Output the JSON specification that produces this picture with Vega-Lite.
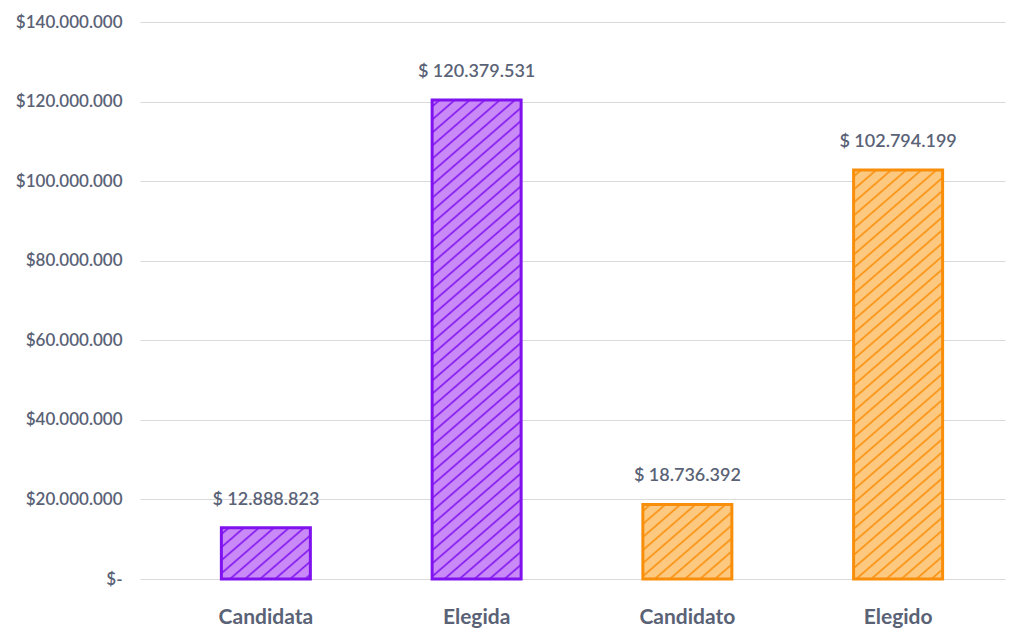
{
"$schema": "https://vega.github.io/schema/vega-lite/v6.json",
"width": 865, "height": 557,
"autosize": {"type": "none"},
"padding": {"left": 140, "top": 22, "right": 13, "bottom": 49},
"config": {"view": {"stroke": null}, "font": "Lato",
  "locale": {"number": {"decimal": ",", "thousands": ".", "grouping": [3], "currency": ["$ ", ""]}}},
"data": {"values": [
  {"cat": "Candidata", "value": 12888823},
  {"cat": "Elegida", "value": 120379531},
  {"cat": "Candidato", "value": 18736392},
  {"cat": "Elegido", "value": 102794199}
]},
"encoding": {
  "x": {"field": "cat", "type": "nominal", "sort": null,
    "scale": {"domain": ["Candidata", "Elegida", "Candidato", "Elegido"], "range": [0, 865], "paddingInner": 0.5777, "paddingOuter": 0.3411, "align": 0.566},
    "axis": {"title": null, "domain": false, "ticks": false, "labelAngle": 0, "labelPadding": 27, "labelFontSize": 21, "labelFontWeight": "bold", "labelColor": "#5a6276", "labelFont": "Lato"}},
  "y": {"field": "value", "type": "quantitative",
    "scale": {"domain": [0, 140000000], "nice": false},
    "axis": {"title": null, "values": [0, 20000000, 40000000, 60000000, 80000000, 100000000, 120000000, 140000000], "format": ",d",
      "labelExpr": "datum.value === 0 ? '$-' : '$' + datum.label",
      "domain": false, "ticks": false, "grid": true, "gridColor": "#d9d9d9", "gridWidth": 1, "labelPadding": 18, "labelFontSize": 17, "labelFontWeight": 600, "labelColor": "#5a6276", "labelFont": "Lato"}}
},
"layer": [
  {"transform": [{"filter": "datum.cat === 'Candidata'"}],
   "mark": {"type": "bar", "stroke": "#7f12ee", "strokeWidth": 3,
     "fill": {"gradient": "linear", "x1": 0, "y1": 0, "x2": 1.1548, "y2": 0.7670, "stops": [
      {"offset":0.0345,"color":"#c98af7"},{"offset":0.0508,"color":"#7f12ee"},{"offset":0.0671,"color":"#c98af7"},
      {"offset":0.1362,"color":"#c98af7"},{"offset":0.1524,"color":"#7f12ee"},{"offset":0.1687,"color":"#c98af7"},
      {"offset":0.2378,"color":"#c98af7"},{"offset":0.2540,"color":"#7f12ee"},{"offset":0.2703,"color":"#c98af7"},
      {"offset":0.3394,"color":"#c98af7"},{"offset":0.3556,"color":"#7f12ee"},{"offset":0.3719,"color":"#c98af7"},
      {"offset":0.4410,"color":"#c98af7"},{"offset":0.4572,"color":"#7f12ee"},{"offset":0.4735,"color":"#c98af7"},
      {"offset":0.5426,"color":"#c98af7"},{"offset":0.5588,"color":"#7f12ee"},{"offset":0.5751,"color":"#c98af7"},
      {"offset":0.6442,"color":"#c98af7"},{"offset":0.6604,"color":"#7f12ee"},{"offset":0.6767,"color":"#c98af7"},
      {"offset":0.7458,"color":"#c98af7"},{"offset":0.7620,"color":"#7f12ee"},{"offset":0.7783,"color":"#c98af7"},
      {"offset":0.8474,"color":"#c98af7"},{"offset":0.8637,"color":"#7f12ee"},{"offset":0.8799,"color":"#c98af7"},
      {"offset":0.9490,"color":"#c98af7"},{"offset":0.9653,"color":"#7f12ee"},{"offset":0.9815,"color":"#c98af7"}
     ]}}},
  {"transform": [{"filter": "datum.cat === 'Elegida'"}],
   "mark": {"type": "bar", "stroke": "#7f12ee", "strokeWidth": 3,
     "fill": {"gradient": "linear", "x1": 0, "y1": 0, "x2": 0.18245, "y2": 1.1318, "stops": [
      {"offset":0.0080,"color":"#c98af7"},{"offset":0.0117,"color":"#7f12ee"},{"offset":0.0155,"color":"#c98af7"},
      {"offset":0.0315,"color":"#c98af7"},{"offset":0.0352,"color":"#7f12ee"},{"offset":0.0390,"color":"#c98af7"},
      {"offset":0.0549,"color":"#c98af7"},{"offset":0.0587,"color":"#7f12ee"},{"offset":0.0624,"color":"#c98af7"},
      {"offset":0.0784,"color":"#c98af7"},{"offset":0.0821,"color":"#7f12ee"},{"offset":0.0859,"color":"#c98af7"},
      {"offset":0.1019,"color":"#c98af7"},{"offset":0.1056,"color":"#7f12ee"},{"offset":0.1094,"color":"#c98af7"},
      {"offset":0.1254,"color":"#c98af7"},{"offset":0.1291,"color":"#7f12ee"},{"offset":0.1329,"color":"#c98af7"},
      {"offset":0.1488,"color":"#c98af7"},{"offset":0.1526,"color":"#7f12ee"},{"offset":0.1563,"color":"#c98af7"},
      {"offset":0.1723,"color":"#c98af7"},{"offset":0.1760,"color":"#7f12ee"},{"offset":0.1798,"color":"#c98af7"},
      {"offset":0.1958,"color":"#c98af7"},{"offset":0.1995,"color":"#7f12ee"},{"offset":0.2033,"color":"#c98af7"},
      {"offset":0.2193,"color":"#c98af7"},{"offset":0.2230,"color":"#7f12ee"},{"offset":0.2268,"color":"#c98af7"},
      {"offset":0.2427,"color":"#c98af7"},{"offset":0.2465,"color":"#7f12ee"},{"offset":0.2502,"color":"#c98af7"},
      {"offset":0.2662,"color":"#c98af7"},{"offset":0.2699,"color":"#7f12ee"},{"offset":0.2737,"color":"#c98af7"},
      {"offset":0.2897,"color":"#c98af7"},{"offset":0.2934,"color":"#7f12ee"},{"offset":0.2972,"color":"#c98af7"},
      {"offset":0.3131,"color":"#c98af7"},{"offset":0.3169,"color":"#7f12ee"},{"offset":0.3206,"color":"#c98af7"},
      {"offset":0.3366,"color":"#c98af7"},{"offset":0.3404,"color":"#7f12ee"},{"offset":0.3441,"color":"#c98af7"},
      {"offset":0.3601,"color":"#c98af7"},{"offset":0.3638,"color":"#7f12ee"},{"offset":0.3676,"color":"#c98af7"},
      {"offset":0.3836,"color":"#c98af7"},{"offset":0.3873,"color":"#7f12ee"},{"offset":0.3911,"color":"#c98af7"},
      {"offset":0.4070,"color":"#c98af7"},{"offset":0.4108,"color":"#7f12ee"},{"offset":0.4146,"color":"#c98af7"},
      {"offset":0.4305,"color":"#c98af7"},{"offset":0.4342,"color":"#7f12ee"},{"offset":0.4380,"color":"#c98af7"},
      {"offset":0.4540,"color":"#c98af7"},{"offset":0.4577,"color":"#7f12ee"},{"offset":0.4615,"color":"#c98af7"},
      {"offset":0.4775,"color":"#c98af7"},{"offset":0.4812,"color":"#7f12ee"},{"offset":0.4850,"color":"#c98af7"},
      {"offset":0.5009,"color":"#c98af7"},{"offset":0.5047,"color":"#7f12ee"},{"offset":0.5084,"color":"#c98af7"},
      {"offset":0.5244,"color":"#c98af7"},{"offset":0.5281,"color":"#7f12ee"},{"offset":0.5319,"color":"#c98af7"},
      {"offset":0.5479,"color":"#c98af7"},{"offset":0.5516,"color":"#7f12ee"},{"offset":0.5554,"color":"#c98af7"},
      {"offset":0.5714,"color":"#c98af7"},{"offset":0.5751,"color":"#7f12ee"},{"offset":0.5789,"color":"#c98af7"},
      {"offset":0.5948,"color":"#c98af7"},{"offset":0.5986,"color":"#7f12ee"},{"offset":0.6023,"color":"#c98af7"},
      {"offset":0.6183,"color":"#c98af7"},{"offset":0.6220,"color":"#7f12ee"},{"offset":0.6258,"color":"#c98af7"},
      {"offset":0.6418,"color":"#c98af7"},{"offset":0.6455,"color":"#7f12ee"},{"offset":0.6493,"color":"#c98af7"},
      {"offset":0.6653,"color":"#c98af7"},{"offset":0.6690,"color":"#7f12ee"},{"offset":0.6728,"color":"#c98af7"},
      {"offset":0.6887,"color":"#c98af7"},{"offset":0.6925,"color":"#7f12ee"},{"offset":0.6962,"color":"#c98af7"},
      {"offset":0.7122,"color":"#c98af7"},{"offset":0.7159,"color":"#7f12ee"},{"offset":0.7197,"color":"#c98af7"},
      {"offset":0.7357,"color":"#c98af7"},{"offset":0.7394,"color":"#7f12ee"},{"offset":0.7432,"color":"#c98af7"},
      {"offset":0.7592,"color":"#c98af7"},{"offset":0.7629,"color":"#7f12ee"},{"offset":0.7667,"color":"#c98af7"},
      {"offset":0.7826,"color":"#c98af7"},{"offset":0.7864,"color":"#7f12ee"},{"offset":0.7901,"color":"#c98af7"},
      {"offset":0.8061,"color":"#c98af7"},{"offset":0.8098,"color":"#7f12ee"},{"offset":0.8136,"color":"#c98af7"},
      {"offset":0.8296,"color":"#c98af7"},{"offset":0.8333,"color":"#7f12ee"},{"offset":0.8371,"color":"#c98af7"},
      {"offset":0.8531,"color":"#c98af7"},{"offset":0.8568,"color":"#7f12ee"},{"offset":0.8606,"color":"#c98af7"},
      {"offset":0.8765,"color":"#c98af7"},{"offset":0.8803,"color":"#7f12ee"},{"offset":0.8840,"color":"#c98af7"},
      {"offset":0.9000,"color":"#c98af7"},{"offset":0.9037,"color":"#7f12ee"},{"offset":0.9075,"color":"#c98af7"},
      {"offset":0.9235,"color":"#c98af7"},{"offset":0.9272,"color":"#7f12ee"},{"offset":0.9310,"color":"#c98af7"},
      {"offset":0.9470,"color":"#c98af7"},{"offset":0.9507,"color":"#7f12ee"},{"offset":0.9545,"color":"#c98af7"},
      {"offset":0.9704,"color":"#c98af7"},{"offset":0.9742,"color":"#7f12ee"},{"offset":0.9779,"color":"#c98af7"}
     ]}}},
  {"transform": [{"filter": "datum.cat === 'Candidato'"}],
   "mark": {"type": "bar", "stroke": "#f98e0a", "strokeWidth": 3,
     "fill": {"gradient": "linear", "x1": 0, "y1": 0, "x2": 1.0173, "y2": 0.9822, "stops": [
      {"offset":0.0293,"color":"#fdc980"},{"offset":0.0430,"color":"#f98e0a"},{"offset":0.0568,"color":"#fdc980"},
      {"offset":0.1153,"color":"#fdc980"},{"offset":0.1290,"color":"#f98e0a"},{"offset":0.1428,"color":"#fdc980"},
      {"offset":0.2013,"color":"#fdc980"},{"offset":0.2151,"color":"#f98e0a"},{"offset":0.2288,"color":"#fdc980"},
      {"offset":0.2873,"color":"#fdc980"},{"offset":0.3011,"color":"#f98e0a"},{"offset":0.3149,"color":"#fdc980"},
      {"offset":0.3734,"color":"#fdc980"},{"offset":0.3871,"color":"#f98e0a"},{"offset":0.4009,"color":"#fdc980"},
      {"offset":0.4594,"color":"#fdc980"},{"offset":0.4732,"color":"#f98e0a"},{"offset":0.4869,"color":"#fdc980"},
      {"offset":0.5454,"color":"#fdc980"},{"offset":0.5592,"color":"#f98e0a"},{"offset":0.5729,"color":"#fdc980"},
      {"offset":0.6315,"color":"#fdc980"},{"offset":0.6452,"color":"#f98e0a"},{"offset":0.6590,"color":"#fdc980"},
      {"offset":0.7175,"color":"#fdc980"},{"offset":0.7312,"color":"#f98e0a"},{"offset":0.7450,"color":"#fdc980"},
      {"offset":0.8035,"color":"#fdc980"},{"offset":0.8173,"color":"#f98e0a"},{"offset":0.8310,"color":"#fdc980"},
      {"offset":0.8895,"color":"#fdc980"},{"offset":0.9033,"color":"#f98e0a"},{"offset":0.9171,"color":"#fdc980"},
      {"offset":0.9756,"color":"#fdc980"},{"offset":0.9893,"color":"#f98e0a"},{"offset":1.0,"color":"#fdc980"}
     ]}}},
  {"transform": [{"filter": "datum.cat === 'Elegido'"}],
   "mark": {"type": "bar", "stroke": "#f98e0a", "strokeWidth": 3,
     "fill": {"gradient": "linear", "x1": 0, "y1": 0, "x2": 0.2167, "y2": 1.1479, "stops": [
      {"offset":0.0091,"color":"#fdc980"},{"offset":0.0134,"color":"#f98e0a"},{"offset":0.0177,"color":"#fdc980"},
      {"offset":0.0360,"color":"#fdc980"},{"offset":0.0403,"color":"#f98e0a"},{"offset":0.0446,"color":"#fdc980"},
      {"offset":0.0628,"color":"#fdc980"},{"offset":0.0671,"color":"#f98e0a"},{"offset":0.0714,"color":"#fdc980"},
      {"offset":0.0897,"color":"#fdc980"},{"offset":0.0940,"color":"#f98e0a"},{"offset":0.0983,"color":"#fdc980"},
      {"offset":0.1165,"color":"#fdc980"},{"offset":0.1208,"color":"#f98e0a"},{"offset":0.1251,"color":"#fdc980"},
      {"offset":0.1434,"color":"#fdc980"},{"offset":0.1477,"color":"#f98e0a"},{"offset":0.1520,"color":"#fdc980"},
      {"offset":0.1702,"color":"#fdc980"},{"offset":0.1745,"color":"#f98e0a"},{"offset":0.1788,"color":"#fdc980"},
      {"offset":0.1971,"color":"#fdc980"},{"offset":0.2014,"color":"#f98e0a"},{"offset":0.2057,"color":"#fdc980"},
      {"offset":0.2239,"color":"#fdc980"},{"offset":0.2282,"color":"#f98e0a"},{"offset":0.2325,"color":"#fdc980"},
      {"offset":0.2508,"color":"#fdc980"},{"offset":0.2551,"color":"#f98e0a"},{"offset":0.2594,"color":"#fdc980"},
      {"offset":0.2776,"color":"#fdc980"},{"offset":0.2819,"color":"#f98e0a"},{"offset":0.2862,"color":"#fdc980"},
      {"offset":0.3045,"color":"#fdc980"},{"offset":0.3088,"color":"#f98e0a"},{"offset":0.3131,"color":"#fdc980"},
      {"offset":0.3314,"color":"#fdc980"},{"offset":0.3357,"color":"#f98e0a"},{"offset":0.3399,"color":"#fdc980"},
      {"offset":0.3582,"color":"#fdc980"},{"offset":0.3625,"color":"#f98e0a"},{"offset":0.3668,"color":"#fdc980"},
      {"offset":0.3851,"color":"#fdc980"},{"offset":0.3893,"color":"#f98e0a"},{"offset":0.3936,"color":"#fdc980"},
      {"offset":0.4119,"color":"#fdc980"},{"offset":0.4162,"color":"#f98e0a"},{"offset":0.4205,"color":"#fdc980"},
      {"offset":0.4388,"color":"#fdc980"},{"offset":0.4431,"color":"#f98e0a"},{"offset":0.4473,"color":"#fdc980"},
      {"offset":0.4656,"color":"#fdc980"},{"offset":0.4699,"color":"#f98e0a"},{"offset":0.4742,"color":"#fdc980"},
      {"offset":0.4925,"color":"#fdc980"},{"offset":0.4968,"color":"#f98e0a"},{"offset":0.5011,"color":"#fdc980"},
      {"offset":0.5193,"color":"#fdc980"},{"offset":0.5236,"color":"#f98e0a"},{"offset":0.5279,"color":"#fdc980"},
      {"offset":0.5462,"color":"#fdc980"},{"offset":0.5505,"color":"#f98e0a"},{"offset":0.5547,"color":"#fdc980"},
      {"offset":0.5730,"color":"#fdc980"},{"offset":0.5773,"color":"#f98e0a"},{"offset":0.5816,"color":"#fdc980"},
      {"offset":0.5999,"color":"#fdc980"},{"offset":0.6042,"color":"#f98e0a"},{"offset":0.6084,"color":"#fdc980"},
      {"offset":0.6267,"color":"#fdc980"},{"offset":0.6310,"color":"#f98e0a"},{"offset":0.6353,"color":"#fdc980"},
      {"offset":0.6536,"color":"#fdc980"},{"offset":0.6579,"color":"#f98e0a"},{"offset":0.6622,"color":"#fdc980"},
      {"offset":0.6804,"color":"#fdc980"},{"offset":0.6847,"color":"#f98e0a"},{"offset":0.6890,"color":"#fdc980"},
      {"offset":0.7073,"color":"#fdc980"},{"offset":0.7116,"color":"#f98e0a"},{"offset":0.7159,"color":"#fdc980"},
      {"offset":0.7341,"color":"#fdc980"},{"offset":0.7384,"color":"#f98e0a"},{"offset":0.7427,"color":"#fdc980"},
      {"offset":0.7610,"color":"#fdc980"},{"offset":0.7653,"color":"#f98e0a"},{"offset":0.7696,"color":"#fdc980"},
      {"offset":0.7878,"color":"#fdc980"},{"offset":0.7921,"color":"#f98e0a"},{"offset":0.7964,"color":"#fdc980"},
      {"offset":0.8147,"color":"#fdc980"},{"offset":0.8190,"color":"#f98e0a"},{"offset":0.8233,"color":"#fdc980"},
      {"offset":0.8415,"color":"#fdc980"},{"offset":0.8458,"color":"#f98e0a"},{"offset":0.8501,"color":"#fdc980"},
      {"offset":0.8684,"color":"#fdc980"},{"offset":0.8727,"color":"#f98e0a"},{"offset":0.8770,"color":"#fdc980"},
      {"offset":0.8952,"color":"#fdc980"},{"offset":0.8995,"color":"#f98e0a"},{"offset":0.9038,"color":"#fdc980"},
      {"offset":0.9221,"color":"#fdc980"},{"offset":0.9264,"color":"#f98e0a"},{"offset":0.9307,"color":"#fdc980"},
      {"offset":0.9489,"color":"#fdc980"},{"offset":0.9532,"color":"#f98e0a"},{"offset":0.9575,"color":"#fdc980"},
      {"offset":0.9758,"color":"#fdc980"},{"offset":0.9801,"color":"#f98e0a"},{"offset":0.9844,"color":"#fdc980"}
     ]}}},
  {"mark": {"type": "text", "baseline": "alphabetic", "dy": -23, "fontSize": 18, "fontWeight": 600, "color": "#5a6276", "font": "Lato"},
   "encoding": {"text": {"field": "value", "type": "quantitative", "format": "$,d"}}}
]
}
